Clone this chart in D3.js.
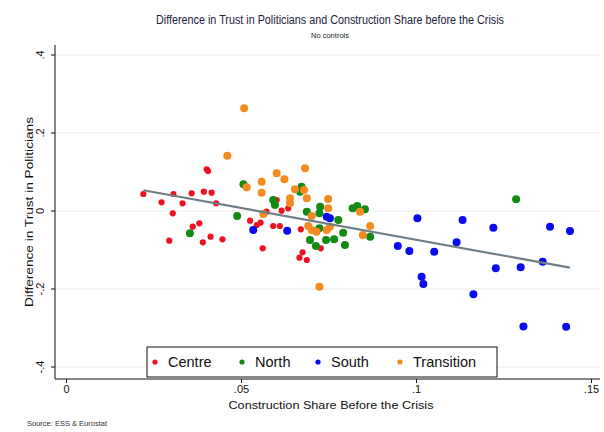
<!DOCTYPE html>
<html>
<head>
<meta charset="utf-8">
<script src="https://cdn.jsdelivr.net/npm/d3@7"></script>
<style>
  html, body { margin: 0; padding: 0; background: #fff; }
  svg { display: block; font-family: "Liberation Sans", Arial, sans-serif; }
</style>
</head>
<body>
<svg id="chart" width="604" height="432"></svg>
<script>
// Regional observations: construction share (x) and change in trust (y)
const centreX = [.0221,.0273,.0307,.0305,.0333,.0359,.0394,.0416,.0402,.0406,.0429,.0362,.0381,.0295,.0391,.0413,.0447,.0526,.0545,.0556,.0573,.0602,.0616,.0635,.0592,.0611,.0671,.0562,.0676,.0667,.0688,.0728];
const centreY = [.0436,.0223,.0436,-.0059,.0197,.0454,.0495,.0469,.1069,.1026,.0197,-.0403,-.0315,-.0762,-.0803,-.0659,-.0726,-.0249,-.0359,-.0300,-.0018,.0282,.0008,.0069,-.0385,-.0385,-.0469,-.0956,-.1059,-.1197,-.1256,-.0956];

const northX = [.0354,.0489,.0507,.0592,.0597,.0673,.0669,.0688,.0726,.0724,.0778,.0724,.0697,.0714,.0743,.0766,.0792,.0797,.0819,.0832,.0854,.0869,.1286];
const northY = [-.0572,-.0128,.0685,.0282,.0154,.0623,.0495,-.0018,.0110,-.0059,-.0231,-.0444,-.0744,-.0897,-.0744,-.0726,-.0556,-.0872,.0069,.0128,.0044,-.0659,.0300];

const southX = [.0535,.0632,.0745,.0754,.1004,.1133,.1221,.1383,.1440,.0948,.0981,.1052,.1116,.1016,.1021,.1164,.1228,.1299,.1362,.1307,.1429];
const southY = [-.0487,-.0505,-.0146,-.0187,-.0187,-.0231,-.0428,-.0403,-.0513,-.0897,-.1026,-.1044,-.0803,-.1685,-.1872,-.2136,-.1469,-.1444,-.1300,-.2962,-.2967];

const transitionX = [.0509,.0461,.0516,.0683,.0602,.0624,.0559,.0559,.0654,.0680,.0640,.0640,.0688,.0749,.0749,.0564,.0702,.0692,.0702,.0716,.0745,.0754,.0840,.0869,.0848,.0724];
const transitionY = [.2633,.1418,.0608,.1095,.0967,.0813,.0751,.0469,.0556,.0538,.0326,.0197,.0326,.0308,.0069,-.0077,-.0128,-.0385,-.0487,-.0531,-.0487,-.0403,-.0018,-.0385,-.0615,-.1941];

const groupNames = ["Centre", "North", "South", "Transition"];
const xTicks = [0, .05, .1, .15];
const xTickLabels = ["0", ".05", ".1", ".15"];
const yTicks = [-.4, -.2, 0, .2, .4];
const yTickLabels = ["-.4", "-.2", "0", ".2", ".4"];

const groups = [
  { name: groupNames[0], xs: centreX, ys: centreY, color: "#ee1122", r: 3.1 },
  { name: groupNames[1], xs: northX, ys: northY, color: "#138a13", r: 4 },
  { name: groupNames[2], xs: southX, ys: southY, color: "#0a0aee", r: 4 },
  { name: groupNames[3], xs: transitionX, ys: transitionY, color: "#f58a1f", r: 4 }
];

const svg = d3.select("#chart");
const x = d3.scaleLinear().domain([0, .15]).range([66, 591]);
const y = d3.scaleLinear().domain([-.4, .4]).range([367, 55]);
const plotLeft = 55, plotRight = 600, plotTop = 45, plotBottom = 379;

// Title block
svg.append("text").attr("x", 330).attr("y", 24).attr("text-anchor", "middle")
  .attr("font-size", 12.5).attr("fill", "#1c1c3c")
  .attr("textLength", 348).attr("lengthAdjust", "spacingAndGlyphs")
  .text("Difference in Trust in Politicians and Construction Share before the Crisis");
svg.append("text").attr("x", 330).attr("y", 38).attr("text-anchor", "middle")
  .attr("font-size", 7.5).attr("fill", "#222")
  .text("No controls");

// Horizontal grid lines
svg.append("g").selectAll("line").data(yTicks).join("line")
  .attr("x1", plotLeft).attr("x2", plotRight)
  .attr("y1", d => y(d)).attr("y2", d => y(d))
  .attr("stroke", "#ececec").attr("stroke-width", 1);

// Axes
const yAxis = d3.axisLeft(y).tickValues(yTicks).tickSize(4).tickSizeOuter(0)
  .tickFormat((d, i) => yTickLabels[i]);
const gy = svg.append("g").attr("transform", `translate(${plotLeft},0)`).call(yAxis);
gy.select(".domain").remove();
gy.selectAll(".tick").attr("transform", null);
gy.selectAll(".tick line").attr("y1", d => y(d)).attr("y2", d => y(d)).attr("stroke", "#111");
gy.selectAll(".tick text")
  .attr("font-size", 11).attr("fill", "#111")
  .attr("text-anchor", "middle").attr("dy", 0)
  .attr("x", -11).attr("y", d => y(d))
  .attr("transform", d => `rotate(-90, -11, ${y(d)})`);

const xAxis = d3.axisBottom(x).tickValues(xTicks).tickSize(4).tickSizeOuter(0)
  .tickFormat((d, i) => xTickLabels[i]);
const gx = svg.append("g").attr("transform", `translate(0,${plotBottom})`).call(xAxis);
gx.select(".domain").remove();
gx.selectAll(".tick line").attr("stroke", "#111");
gx.selectAll("text").attr("font-size", 11).attr("fill", "#111").attr("y", 6);

svg.append("line").attr("x1", plotLeft).attr("x2", plotLeft).attr("y1", plotTop).attr("y2", plotBottom)
  .attr("stroke", "#111").attr("stroke-width", 1);
svg.append("line").attr("x1", plotLeft).attr("x2", plotRight).attr("y1", plotBottom).attr("y2", plotBottom)
  .attr("stroke", "#111").attr("stroke-width", 1);

// Axis titles and note
svg.append("text").attr("x", 331).attr("y", 409).attr("text-anchor", "middle")
  .attr("font-size", 11).attr("fill", "#111")
  .attr("textLength", 205).attr("lengthAdjust", "spacingAndGlyphs")
  .text("Construction Share Before the Crisis");
svg.append("text").attr("transform", "translate(33,212) rotate(-90)").attr("text-anchor", "middle")
  .attr("font-size", 11).attr("fill", "#111")
  .attr("textLength", 190).attr("lengthAdjust", "spacingAndGlyphs")
  .text("Difference in Trust in Politicians");
svg.append("text").attr("x", 27).attr("y", 426)
  .attr("font-size", 7.5).attr("fill", "#333")
  .text("Source: ESS & Eurostat");

// Scatter points
const pts = svg.append("g");
groups.forEach(g => {
  pts.append("g").selectAll("circle").data(g.xs.map((v, i) => [v, g.ys[i]])).join("circle")
    .attr("cx", d => x(d[0])).attr("cy", d => y(d[1]))
    .attr("r", g.r).attr("fill", g.color);
});

// Pooled OLS fit across all regions
const all = groups.flatMap(g => g.xs.map((v, i) => [v, g.ys[i]]));
const mx = d3.mean(all, d => d[0]), my = d3.mean(all, d => d[1]);
const slope = d3.sum(all, d => (d[0] - mx) * (d[1] - my)) / d3.sum(all, d => (d[0] - mx) ** 2);
const intercept = my - slope * mx;
const [xmin, xmax] = d3.extent(all, d => d[0]);
svg.append("path")
  .datum([xmin, xmax].map(v => [v, intercept + slope * v]))
  .attr("d", d3.line().x(d => x(d[0])).y(d => y(d[1])))
  .attr("stroke", "#6f7d86").attr("stroke-width", 2.2).attr("fill", "none");

// Legend
const lg = svg.append("g");
lg.append("rect").attr("x", 147).attr("y", 347).attr("width", 350).attr("height", 30)
  .attr("fill", "#fff").attr("stroke", "#111").attr("stroke-width", 1);
const legendDotX = [155, 242, 318, 400];
groups.forEach((g, i) => {
  lg.append("circle").attr("cx", legendDotX[i]).attr("cy", 362).attr("r", 2.6).attr("fill", g.color);
  lg.append("text").attr("x", legendDotX[i] + 13).attr("y", 367)
    .attr("font-size", 14.5).attr("fill", "#111").text(g.name);
});
</script>
</body>
</html>
